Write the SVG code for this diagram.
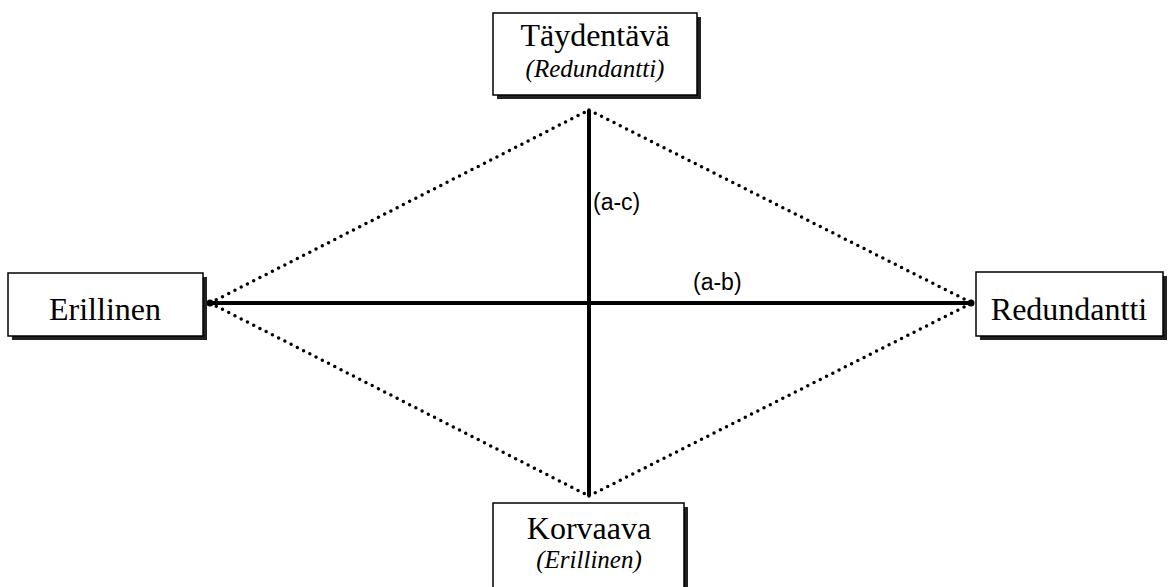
<svg xmlns="http://www.w3.org/2000/svg" width="1174" height="587" viewBox="0 0 1174 587">
<style>
.box{fill:#fff;stroke:#000;stroke-width:1.5}
.shadow{fill:#222}
.t{font-family:"Liberation Serif","Times New Roman",serif;font-size:32px;fill:#000;text-anchor:middle}
.ti{font-family:"Liberation Serif","Times New Roman",serif;font-size:25px;font-style:italic;fill:#000;text-anchor:middle}
.lbl{font-family:"Liberation Sans",Arial,sans-serif;font-size:23px;fill:#000}
.solid{stroke:#000;stroke-width:4;fill:none}
.dot{stroke:#000;stroke-width:3.5;stroke-linecap:round;stroke-dasharray:0 7;fill:none}
</style>
<rect width="1174" height="587" fill="#fff"/>
<g id="connectors">
<line class="dot" x1="210" y1="303" x2="589" y2="110"/>
<line class="dot" x1="589" y1="110" x2="972" y2="303"/>
<line class="dot" x1="210" y1="303" x2="589" y2="496"/>
<line class="dot" x1="589" y1="496" x2="972" y2="303"/>
<line class="solid" x1="207" y1="303" x2="973" y2="303"/>
<line class="solid" x1="589" y1="110" x2="589" y2="496"/>
<circle cx="210" cy="303" r="3.5"/>
<circle cx="971" cy="303" r="3.5"/>
<text class="lbl" x="593" y="210">(a-c)</text>
<text class="lbl" x="693" y="290">(a-b)</text>
</g>
<g id="node-top">
<rect class="shadow" x="497" y="17" width="204" height="82"/>
<rect class="box" x="493" y="13" width="204" height="82"/>
<text class="t" x="595" y="46">Täydentävä</text>
<text class="ti" x="595" y="77">(Redundantti)</text>
</g>
<g id="node-bottom">
<rect class="shadow" x="497" y="507" width="191" height="100"/>
<rect class="box" x="493" y="503" width="191" height="100"/>
<text class="t" x="589" y="539">Korvaava</text>
<text class="ti" x="589" y="568">(Erillinen)</text>
</g>
<g id="node-left">
<rect class="shadow" x="12" y="277" width="195" height="63"/>
<rect class="box" x="8" y="273" width="195" height="63"/>
<text class="t" x="105" y="320">Erillinen</text>
</g>
<g id="node-right">
<rect class="shadow" x="980" y="276" width="187" height="64"/>
<rect class="box" x="976" y="272" width="187" height="64"/>
<text class="t" x="1069" y="320">Redundantti</text>
</g>
</svg>
